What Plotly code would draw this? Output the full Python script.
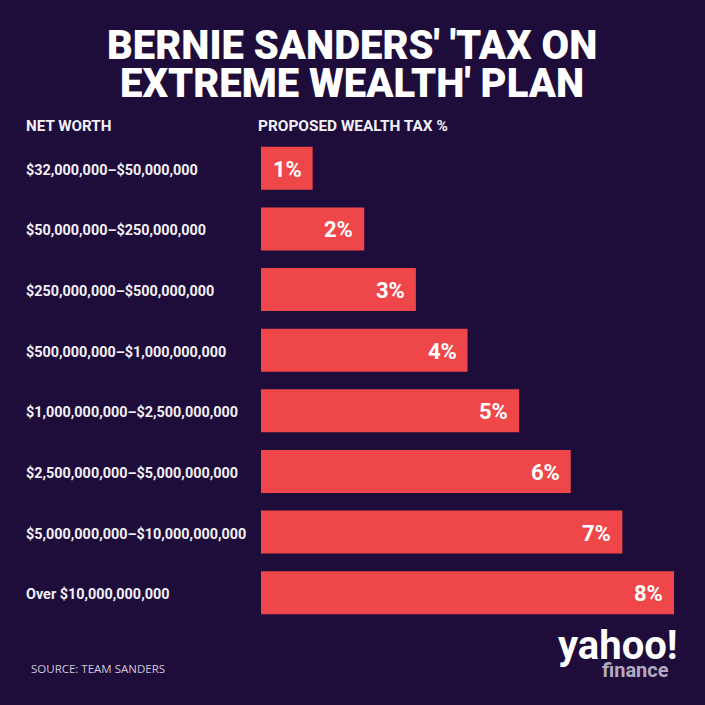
import plotly.graph_objects as go

categories = [
    "$32,000,000–$50,000,000",
    "$50,000,000–$250,000,000",
    "$250,000,000–$500,000,000",
    "$500,000,000–$1,000,000,000",
    "$1,000,000,000–$2,500,000,000",
    "$2,500,000,000–$5,000,000,000",
    "$5,000,000,000–$10,000,000,000",
    "Over $10,000,000,000",
]
tax_rates = [1, 2, 3, 4, 5, 6, 7, 8]
tax_labels = ["1%", "2%", "3%", "4%", "5%", "6%", "7%", "8%"]

BG = "#1e0c3a"
BAR = "#ef4749"
FONT = "Roboto, sans-serif"

W = H = 705
L, R, T, B = 261, 31, 138, 82
plot_w = W - L - R

fig = go.Figure(go.Bar(
    x=tax_rates, y=categories, orientation="h",
    marker=dict(color=BAR, line=dict(width=0)),
    hoverinfo="skip",
))

ann = []
for c, v, t in zip(categories, tax_rates, tax_labels):
    ann.append(dict(x=v, y=c, xref="x", yref="y", text="<b>%s</b>" % t,
                    showarrow=False, xanchor="right", xshift=-9, yshift=-1,
                    font=dict(family=FONT, size=22, color="white")))
    ann.append(dict(x=(24 - L) / plot_w, y=c, xref="paper", yref="y",
                    text="<b>%s</b>" % c, showarrow=False, xanchor="left", yshift=-2,
                    font=dict(family=FONT, size=14.4, color="#f2f0f6")))

def px_x(px):
    return (px - L) / plot_w

def px_y(py):
    return (H - B - py) / (H - T - B)

ann += [
    dict(x=px_x(24), y=px_y(126), xref="paper", yref="paper", text="<b>NET WORTH</b>",
         showarrow=False, xanchor="left", yanchor="middle",
         font=dict(family=FONT, size=15.2, color="#f2f0f6")),
    dict(x=px_x(256), y=px_y(126), xref="paper", yref="paper", text="<b>PROPOSED WEALTH TAX %</b>",
         showarrow=False, xanchor="left", yanchor="middle",
         font=dict(family=FONT, size=15.4, color="#f2f0f6")),
    dict(x=px_x(352), y=px_y(45), xref="paper", yref="paper",
         text="BERNIE SANDERS' 'TAX ON", showarrow=False, xanchor="center", yanchor="middle",
         font=dict(family=FONT, size=40, color="white", weight=900)),
    dict(x=px_x(352), y=px_y(84), xref="paper", yref="paper",
         text="EXTREME WEALTH' PLAN", showarrow=False, xanchor="center", yanchor="middle",
         font=dict(family=FONT, size=40, color="white", weight=900)),
    dict(x=px_x(29), y=px_y(668), xref="paper", yref="paper", text="SOURCE: TEAM SANDERS",
         showarrow=False, xanchor="left", yanchor="middle",
         font=dict(family="Open Sans, sans-serif", size=11.5, color="#cfc8dc")),
    dict(x=px_x(680), y=px_y(645), xref="paper", yref="paper", text="<b>yahoo!</b>",
         showarrow=False, xanchor="right", yanchor="middle",
         font=dict(family=FONT, size=40, color="white")),
    dict(x=px_x(671), y=px_y(670), xref="paper", yref="paper", text="<b>finance</b>",
         showarrow=False, xanchor="right", yanchor="middle",
         font=dict(family=FONT, size=20, color="#b2abbf")),
]

fig.update_layout(
    width=W, height=H,
    margin=dict(l=L, r=R, t=T, b=B, pad=0),
    paper_bgcolor=BG, plot_bgcolor=BG,
    bargap=0.29,
    showlegend=False,
    xaxis=dict(range=[0, 8], visible=False, fixedrange=True),
    yaxis=dict(autorange="reversed", visible=False, fixedrange=True,
               categoryorder="array", categoryarray=categories),
    annotations=ann,
)

fig.write_html("out.html", config={"displayModeBar": False})
